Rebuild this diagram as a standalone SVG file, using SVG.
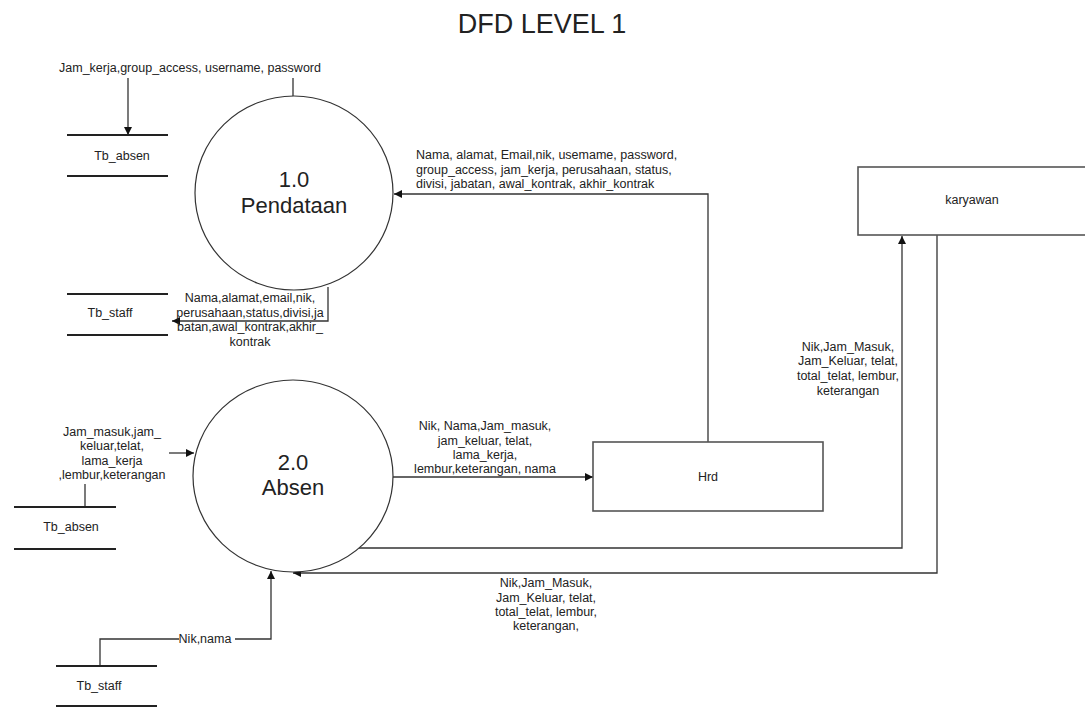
<svg xmlns="http://www.w3.org/2000/svg" width="1085" height="707" viewBox="0 0 1085 707">
  <style>
    text { font-family: "Liberation Sans", Arial, sans-serif; fill: #222; }
    .lbl { font-size: 12.5px; }
    .mid { text-anchor: middle; }
    .title { font-size: 27px; text-anchor: middle; }
    .proc-text { font-size: 22px; text-anchor: middle; }
    .proc { fill: #fff; stroke: #333; stroke-width: 1.2; }
    .ent { fill: #fff; stroke: #555; stroke-width: 1.6; }
    .store { stroke: #222; stroke-width: 2; }
    .flow { fill: none; stroke: #333; stroke-width: 1.3; }
  </style>
  <defs>
    <marker id="arrow" viewBox="0 0 10 10" refX="10" refY="5" markerWidth="8" markerHeight="8" markerUnits="userSpaceOnUse" orient="auto">
      <path d="M0,0 L10,5 L0,10 z" fill="#111"/>
    </marker>
  </defs>

  <rect width="1085" height="707" fill="#fff"/>
  <text class="title" x="542" y="33">DFD LEVEL 1</text>

  <!-- connectors -->
  <g id="connectors">
    <!-- store input from top label -->
    <line class="flow" x1="128" y1="78" x2="128" y2="135" marker-end="url(#arrow)"/>
    <line class="flow" x1="293" y1="78" x2="293" y2="97"/>
    <!-- Hrd to 1.0 -->
    <polyline class="flow" points="708,442 708,194 394,194" marker-end="url(#arrow)"/>
    <!-- 1.0 to Tb_staff -->
    <polyline class="flow" points="328,287 328,321 172,321" marker-end="url(#arrow)"/>
    <!-- Tb_absen to 2.0 -->
    <line class="flow" x1="85" y1="484" x2="85" y2="507"/>
    <line class="flow" x1="169" y1="453" x2="194" y2="453" marker-end="url(#arrow)"/>
    <!-- 2.0 to Hrd -->
    <line class="flow" x1="393" y1="477" x2="593" y2="477" marker-end="url(#arrow)"/>
    <!-- 2.0 to karyawan -->
    <polyline class="flow" points="359,548 902,548 902,236" marker-end="url(#arrow)"/>
    <!-- karyawan to 2.0 -->
    <polyline class="flow" points="937,235 937,573 293,573" marker-end="url(#arrow)"/>
    <!-- Tb_staff to 2.0 -->
    <polyline class="flow" points="100,666 100,639 179,639"/>
    <polyline class="flow" points="235,639 271,639 271,571" marker-end="url(#arrow)"/>
  </g>

  <!-- flow labels -->
  <g id="flow-labels" class="lbl">
    <text class="mid" x="190" y="72">Jam_kerja,group_access, username, password</text>
    <text x="416" y="159">Nama, alamat, Email,nik, usemame, password,</text>
    <text x="416" y="173.5">group_access, jam_kerja, perusahaan, status,</text>
    <text x="416" y="188">divisi, jabatan, awal_kontrak, akhir_kontrak</text>
    <text class="mid" x="250" y="302">Nama,alamat,email,nik,</text>
    <text class="mid" x="250" y="317">perusahaan,status,divisi,ja</text>
    <text class="mid" x="250" y="331">batan,awal_kontrak,akhir_</text>
    <text class="mid" x="250" y="346">kontrak</text>
    <text class="mid" x="112" y="436">Jam_masuk,jam_</text>
    <text class="mid" x="112" y="450">keluar,telat,</text>
    <text class="mid" x="112" y="465">lama_kerja</text>
    <text class="mid" x="112" y="479">,lembur,keterangan</text>
    <text class="mid" x="485" y="430">Nik, Nama,Jam_masuk,</text>
    <text class="mid" x="485" y="445">jam_keluar, telat,</text>
    <text class="mid" x="485" y="459">lama_kerja,</text>
    <text class="mid" x="485" y="473">lembur,keterangan, nama</text>
    <text class="mid" x="848" y="351">Nik,Jam_Masuk,</text>
    <text class="mid" x="848" y="365">Jam_Keluar, telat,</text>
    <text class="mid" x="848" y="380">total_telat, lembur,</text>
    <text class="mid" x="848" y="395">keterangan</text>
    <text class="mid" x="546" y="587">Nik,Jam_Masuk,</text>
    <text class="mid" x="546" y="602">Jam_Keluar, telat,</text>
    <text class="mid" x="546" y="616">total_telat, lembur,</text>
    <text class="mid" x="546" y="630">keterangan,</text>
    <text class="mid" x="205" y="643">Nik,nama</text>
  </g>

  <!-- processes -->
  <g id="proc-1">
    <ellipse class="proc" cx="294" cy="193" rx="99" ry="97"/>
    <text class="proc-text" x="294" y="187">1.0</text>
    <text class="proc-text" x="294" y="213">Pendataan</text>
  </g>
  <g id="proc-2">
    <ellipse class="proc" cx="293" cy="476" rx="100" ry="96"/>
    <text class="proc-text" x="293" y="470">2.0</text>
    <text class="proc-text" x="293" y="495">Absen</text>
  </g>

  <!-- external entities -->
  <g id="ent-karyawan">
    <rect class="ent" x="858" y="167" width="240" height="68"/>
    <text class="lbl mid" x="972" y="204">karyawan</text>
  </g>
  <g id="ent-hrd">
    <rect class="ent" x="593" y="442" width="230" height="69"/>
    <text class="lbl mid" x="708" y="481">Hrd</text>
  </g>

  <!-- data stores -->
  <g id="store-absen-1">
    <line class="store" x1="67" y1="135" x2="168" y2="135"/>
    <line class="store" x1="67" y1="176" x2="168" y2="176"/>
    <text class="lbl mid" x="122" y="160">Tb_absen</text>
  </g>
  <g id="store-staff-1">
    <line class="store" x1="67" y1="294" x2="168" y2="294"/>
    <line class="store" x1="67" y1="335" x2="168" y2="335"/>
    <text class="lbl mid" x="110" y="317">Tb_staff</text>
  </g>
  <g id="store-absen-2">
    <line class="store" x1="14" y1="507" x2="116" y2="507"/>
    <line class="store" x1="14" y1="549" x2="116" y2="549"/>
    <text class="lbl mid" x="71" y="531">Tb_absen</text>
  </g>
  <g id="store-staff-2">
    <line class="store" x1="56" y1="666" x2="157" y2="666"/>
    <line class="store" x1="56" y1="706" x2="157" y2="706"/>
    <text class="lbl mid" x="99" y="690">Tb_staff</text>
  </g>
</svg>
